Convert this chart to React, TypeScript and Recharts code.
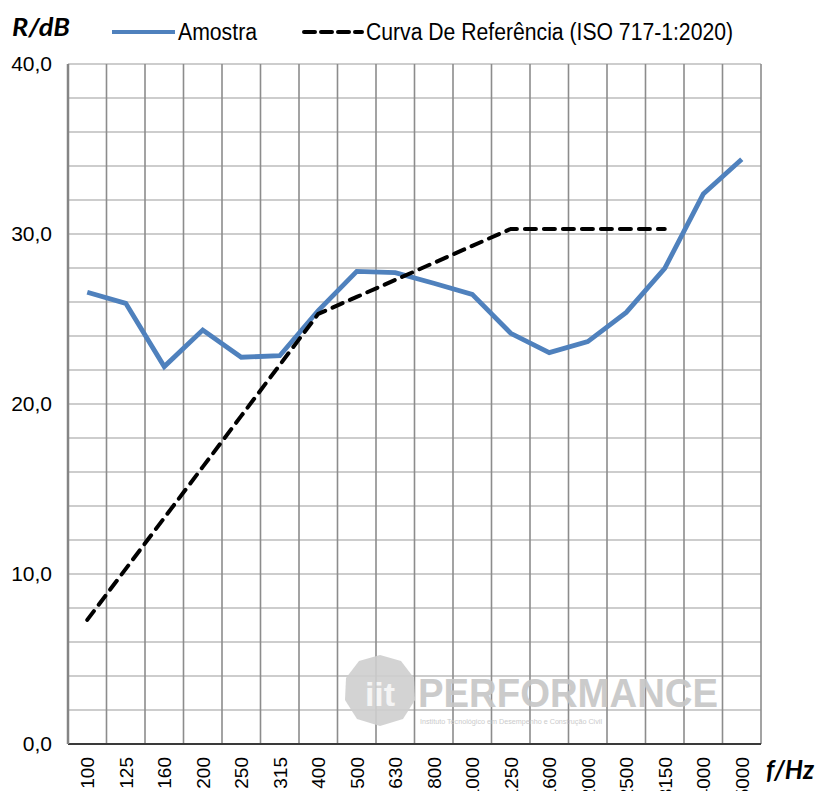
import React from 'react';
import { LineChart, Line, XAxis, YAxis, CartesianGrid } from 'recharts';

const frequencies = ['100', '125', '160', '200', '250', '315', '400', '500', '630', '800', '1000', '1250', '1600', '2000', '2500', '3150', '4000', '5000'];
const amostra = [26.57, 25.92, 22.2, 24.35, 22.75, 22.84, 25.5, 27.8, 27.73, 27.1, 26.45, 24.16, 23.02, 23.67, 25.39, 27.98, 32.35, 34.4];
const referencia: (number | null)[] = [7.3, 10.3, 13.3, 16.3, 19.3, 22.3, 25.3, 26.3, 27.3, 28.3, 29.3, 30.3, 30.3, 30.3, 30.3, 30.3, null, null];
const yGridTicks = [0, 2, 4, 6, 8, 10, 12, 14, 16, 18, 20, 22, 24, 26, 28, 30, 32, 34, 36, 38, 40];
const yLabelStep = 10;
const seriesNames = ['Amostra', 'Curva De Referência (ISO 717-1:2020)'];

const data = frequencies.map((f, i) => ({
  pos: i + 0.5,
  freq: f,
  amostra: amostra[i],
  referencia: referencia[i],
}));
const xTicks = data.map((d) => d.pos);
const xBoundaries = frequencies.map((_, i) => i).concat([frequencies.length]);

const ARIAL = "'Liberation Sans', Arial, sans-serif";
const TITLE = "Lato, 'Liberation Sans', Arial, sans-serif";

const BLUE = '#4F81BD';

const FreqTick = (props: any) => {
  const { x, y, payload } = props;
  const label = frequencies[Math.floor(payload.value)];
  return (
    <text
      x={x}
      y={y}
      transform={`rotate(-90 ${x} ${y})`}
      textAnchor="end"
      dy="0.36em"
      fontSize={19}
      fontFamily={ARIAL}
      fill="#000"
    >
      {label}
    </text>
  );
};

export default function App() {
  return (
    <div style={{ position: 'absolute', left: 0, top: 0, width: 817, height: 791, overflow: 'hidden' }}>
      <LineChart
        width={817}
        height={791}
        data={data}
        margin={{ top: 64, right: 56, bottom: 0, left: 8 }}
      >
        {/* watermark */}
        <g opacity={0.9}>
          <polygon
            points="380,655 401,661 414,678 415,700 403,719 380,726 357,719 345,700 346,678 359,661"
            fill="#cfcfcf"
          />
          <text x={380} y={706} textAnchor="middle" fontSize={34} fontWeight="bold" fontFamily={ARIAL} fill="#f4f4f4">
            iit
          </text>
          <text x={418} y={707} fontSize={41} fontWeight="bold" fontFamily={ARIAL} fill="#c6c6c6" textLength={300} lengthAdjust="spacingAndGlyphs">
            PERFORMANCE
          </text>
          <text x={420} y={724} fontSize={7} fontFamily={ARIAL} fill="#c6c6c6" textLength={182} lengthAdjust="spacingAndGlyphs">
            Instituto Tecnológico em Desempenho e Construção Civil
          </text>
        </g>
        <CartesianGrid horizontal={true} vertical={false} stroke="#bdbdbd" strokeWidth={1.6} />
        <CartesianGrid
          horizontal={false}
          vertical={true}
          stroke="#8c8c8c"
          strokeWidth={1.6}
          verticalCoordinatesGenerator={(p: any) => {
            const sc = p && p.xAxis && p.xAxis.scale;
            if (sc && typeof sc === 'function') return xBoundaries.map((v) => sc(v));
            if (sc && typeof sc.map === 'function') return xBoundaries.map((v) => sc.map(v));
            return xBoundaries.map((v) => p.offset.left + (v * p.offset.width) / frequencies.length);
          }}
        />
        <XAxis
          dataKey="pos"
          type="number"
          domain={[0, frequencies.length]}
          ticks={xTicks}
          interval={0}
          tick={<FreqTick />}
          tickLine={false}
          tickSize={0}
          tickMargin={13}
          height={47}
          axisLine={{ stroke: '#3a3a3a', strokeWidth: 2 }}
        />
        <YAxis
          type="number"
          domain={[0, 40]}
          ticks={yGridTicks}
          interval={0}
          width={60}
          tickLine={false}
          tickSize={0}
          tickMargin={16}
          axisLine={{ stroke: '#858585', strokeWidth: 2.5 }}
          tick={{ fontSize: 21, fontFamily: ARIAL, fill: '#000' }}
          tickFormatter={(v: number) => (v % yLabelStep === 0 ? v.toFixed(1).replace('.', ',') : '')}
        />
        <Line
          type="linear"
          dataKey="amostra"
          name={seriesNames[0]}
          stroke={BLUE}
          strokeWidth={4.8}
          dot={false}
          activeDot={false}
          isAnimationActive={false}
        />
        <Line
          type="linear"
          dataKey="referencia"
          name={seriesNames[1]}
          stroke="#000"
          strokeWidth={4}
          strokeDasharray="11 8"
          strokeLinecap="round"
          dot={false}
          activeDot={false}
          connectNulls={false}
          isAnimationActive={false}
        />
        {/* legend */}
        <line x1={112} y1={32} x2={175} y2={32} stroke={BLUE} strokeWidth={4} />
        <text x={178} y={40} fontSize={23} fontFamily={ARIAL} fill="#000" textLength={79} lengthAdjust="spacingAndGlyphs">
          {seriesNames[0]}
        </text>
        <line x1={304} y1={32} x2={362} y2={32} stroke="#000" strokeWidth={4} strokeDasharray="11 6" strokeLinecap="round" />
        <text x={366} y={40} fontSize={23} fontFamily={ARIAL} fill="#000" textLength={367} lengthAdjust="spacingAndGlyphs">
          {seriesNames[1]}
        </text>
        {/* axis titles */}
        <text x={12} y={36} fontSize={25} fontStyle="italic" fontWeight="bold" fontFamily={TITLE} fill="#000" textLength={58} lengthAdjust="spacingAndGlyphs">
          R/dB
        </text>
        <text x={766} y={779} fontSize={26} fontStyle="italic" fontWeight="bold" fontFamily={TITLE} fill="#000" textLength={48} lengthAdjust="spacingAndGlyphs">
          f/Hz
        </text>
      </LineChart>
    </div>
  );
}
